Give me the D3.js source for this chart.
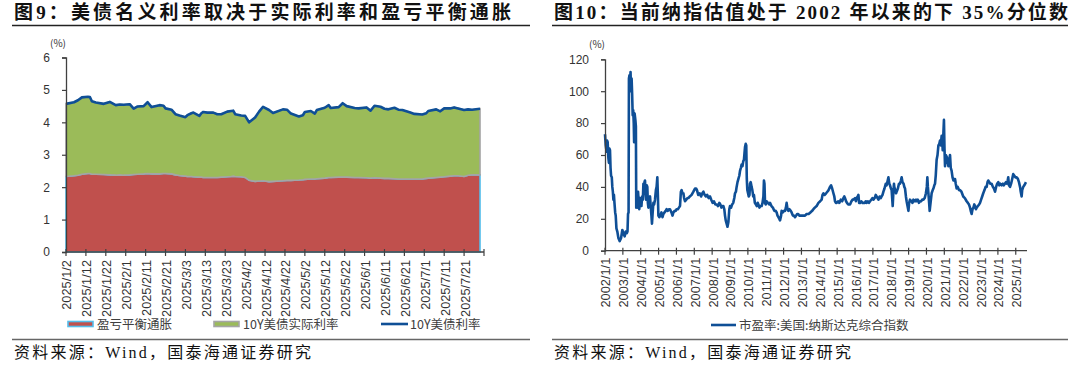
<!DOCTYPE html>
<html><head><meta charset="utf-8">
<script src="https://cdn.jsdelivr.net/npm/d3@7"></script>
<style>body{margin:0;background:#fff}svg{display:block}</style>
</head><body>
<svg id="c" width="1080" height="365"></svg>
<script>
// ---------- Left chart data (2025) ----------
const leftDates = ["01-02","01-06","01-08","01-10","01-13","01-14","01-15","01-17","01-21","01-24","01-27","01-29","01-31",
"02-03","02-05","02-07","02-10","02-12","02-14","02-18","02-20","02-21","02-24","02-26","02-28",
"03-03","03-04","03-06","03-07","03-10","03-11","03-12","03-14","03-17","03-19","03-21","03-24","03-26","03-27","03-28","03-31",
"04-02","04-04","04-07","04-09","04-11","04-14","04-16","04-21","04-23","04-25","04-29",
"05-01","05-02","05-05","05-07","05-08","05-12","05-14","05-15","05-19","05-21","05-23","05-27","05-29",
"06-02","06-04","06-06","06-09","06-11","06-13","06-16","06-18","06-20","06-24","06-26","06-30",
"07-02","07-03","07-07","07-09","07-11","07-14","07-16","07-18","07-21","07-23","07-25","07-29"];
const nominal10Y = [4.57,4.62,4.68,4.77,4.79,4.78,4.65,4.61,4.57,4.63,4.53,4.55,4.54,
4.56,4.42,4.49,4.50,4.62,4.47,4.53,4.51,4.43,4.39,4.25,4.21,
4.16,4.22,4.28,4.30,4.20,4.28,4.32,4.30,4.30,4.25,4.25,4.33,4.35,4.36,4.25,4.21,
4.20,4.00,4.15,4.33,4.48,4.38,4.29,4.40,4.39,4.27,4.18,
4.22,4.32,4.35,4.27,4.38,4.45,4.53,4.44,4.47,4.59,4.50,4.44,4.43,
4.46,4.36,4.51,4.48,4.42,4.40,4.45,4.39,4.38,4.30,4.26,4.24,
4.28,4.35,4.40,4.34,4.43,4.43,4.46,4.43,4.38,4.40,4.39,4.42];
const breakeven = [2.33,2.35,2.37,2.40,2.42,2.42,2.40,2.40,2.39,2.38,2.37,2.38,2.37,
2.38,2.39,2.40,2.41,2.42,2.41,2.41,2.42,2.42,2.41,2.38,2.36,
2.34,2.33,2.33,2.32,2.31,2.31,2.30,2.30,2.30,2.30,2.31,2.32,2.33,2.34,2.33,2.32,
2.30,2.21,2.18,2.19,2.20,2.17,2.18,2.20,2.21,2.21,2.22,
2.23,2.24,2.25,2.25,2.26,2.28,2.30,2.30,2.31,2.31,2.31,2.30,2.30,
2.29,2.28,2.29,2.28,2.27,2.27,2.26,2.25,2.25,2.25,2.25,2.25,
2.27,2.28,2.30,2.31,2.32,2.34,2.35,2.35,2.33,2.37,2.38,2.38];
const leftYTicks = [0,1,2,3,4,5,6];
const leftLegend = ["盈亏平衡通胀","10Y美债实际利率","10Y美债利率"];

// ---------- Right chart data (Nasdaq PE) ----------
const peYears = [2002.00,2002.04,2002.09,2002.12,2002.15,2002.19,2002.22,2002.25,2002.28,2002.31,2002.34,2002.38,2002.41,2002.44,2002.47,2002.50,2002.53,2002.57,2002.60,2002.64,
2002.69,2002.75,2002.82,2002.90,2002.97,2003.03,2003.10,2003.16,2003.22,2003.26,2003.29,2003.32,2003.34,2003.37,2003.40,2003.43,2003.46,2003.49,2003.52,2003.55,
2003.58,2003.61,2003.63,2003.66,2003.70,2003.73,2003.75,2003.78,2003.81,2003.85,2003.88,2003.92,2003.96,2004.00,2004.04,2004.08,2004.12,2004.15,2004.18,2004.21,
2004.24,2004.27,2004.30,2004.34,2004.37,2004.40,2004.43,2004.47,2004.52,2004.56,2004.60,2004.63,2004.67,2004.71,2004.75,2004.80,2004.85,2004.89,2004.93,2004.96,
2004.99,2005.04,2005.10,2005.16,2005.22,2005.27,2005.33,2005.40,2005.45,2005.52,2005.58,2005.64,2005.72,2005.78,2005.83,2005.90,2005.96,2006.01,2006.08,2006.14,
2006.20,2006.25,2006.29,2006.34,2006.39,2006.43,2006.48,2006.55,2006.62,2006.67,2006.75,2006.85,2006.95,2007.04,2007.10,2007.15,2007.22,2007.30,2007.38,2007.45,
2007.51,2007.58,2007.65,2007.72,2007.80,2007.88,2007.95,2008.03,2008.10,2008.18,2008.25,2008.33,2008.40,2008.46,2008.52,2008.58,2008.63,2008.68,2008.72,2008.76,
2008.81,2008.86,2008.91,2008.96,2009.00,2009.06,2009.12,2009.18,2009.24,2009.28,2009.33,2009.37,2009.42,2009.47,2009.52,2009.56,2009.61,2009.65,2009.70,2009.74,
2009.78,2009.81,2009.84,2009.88,2009.91,2009.94,2009.97,2010.01,2010.05,2010.09,2010.12,2010.16,2010.21,2010.25,2010.30,2010.34,2010.39,2010.45,2010.50,2010.55,
2010.59,2010.65,2010.71,2010.77,2010.82,2010.87,2010.90,2010.93,2010.96,2011.00,2011.05,2011.12,2011.20,2011.24,2011.32,2011.40,2011.48,2011.56,2011.61,2011.66,
2011.71,2011.76,2011.80,2011.86,2011.89,2011.95,2012.02,2012.08,2012.13,2012.17,2012.22,2012.26,2012.33,2012.40,2012.45,2012.52,2012.58,2012.64,2012.70,2012.76,
2012.82,2012.88,2012.96,2013.04,2013.10,2013.20,2013.29,2013.40,2013.50,2013.60,2013.67,2013.75,2013.85,2013.95,2014.05,2014.13,2014.18,2014.23,2014.30,2014.38,
2014.45,2014.52,2014.60,2014.66,2014.72,2014.79,2014.84,2014.88,2014.93,2014.97,2015.05,2015.12,2015.20,2015.28,2015.35,2015.40,2015.44,2015.50,2015.55,2015.62,
2015.68,2015.72,2015.80,2015.86,2015.91,2016.00,2016.05,2016.09,2016.15,2016.19,2016.23,2016.28,2016.35,2016.42,2016.47,2016.55,2016.60,2016.65,2016.72,2016.78,
2016.84,2016.92,2016.98,2017.03,2017.10,2017.16,2017.21,2017.26,2017.31,2017.38,2017.44,2017.49,2017.54,2017.59,2017.65,2017.72,2017.77,2017.83,2017.87,2017.92,
2017.96,2018.01,2018.05,2018.08,2018.11,2018.14,2018.18,2018.20,2018.25,2018.30,2018.33,2018.40,2018.46,2018.52,2018.57,2018.61,2018.66,2018.72,2018.76,2018.80,
2018.85,2018.89,2018.94,2018.99,2019.03,2019.08,2019.15,2019.22,2019.27,2019.35,2019.42,2019.45,2019.52,2019.58,2019.64,2019.70,2019.76,2019.83,2019.90,2019.97,
2020.02,2020.05,2020.08,2020.11,2020.15,2020.18,2020.20,2020.25,2020.29,2020.35,2020.39,2020.44,2020.48,2020.52,2020.57,2020.62,2020.67,2020.72,2020.76,2020.80,
2020.85,2020.88,2020.91,2020.95,2020.98,2021.01,2021.04,2021.08,2021.13,2021.18,2021.23,2021.27,2021.32,2021.36,2021.41,2021.46,2021.51,2021.55,2021.60,2021.64,
2021.69,2021.75,2021.82,2021.88,2021.96,2022.06,2022.15,2022.25,2022.32,2022.38,2022.44,2022.48,2022.53,2022.58,2022.63,2022.68,2022.72,2022.77,2022.81,2022.88,
2022.95,2023.00,2023.06,2023.12,2023.18,2023.25,2023.31,2023.37,2023.42,2023.46,2023.52,2023.58,2023.65,2023.72,2023.78,2023.84,2023.90,2023.96,2024.02,2024.08,
2024.14,2024.21,2024.28,2024.33,2024.39,2024.45,2024.50,2024.55,2024.58,2024.62,2024.68,2024.74,2024.80,2024.86,2024.92,2024.98,2025.05,2025.12,2025.18,2025.24,
2025.28,2025.33,2025.36,2025.42,2025.48,2025.53,2025.57];
const peValues = [73,66,62,69,68,58,55,64,63,52,47,46,40,37,32,35,30,24,22,14,
12,8,6,8,13,11,9,12,11,12,23,24,108,110,104,112,100,108,98,85,
88,80,68,86,82,78,27,30,27,37,32,26,33,30,28,34,32,42,38,43,
44,36,32,41,40,30,27,33,34,28,22,17,24,30,29,32,38,40,46,35,
22,21,22,24,21,23,24,25,26,25,26,26,24,22,24,25,25,26,26,27,
28,37,38,36,36,33,31,32,33,33,34,35,37,39,39,38,35,36,34,36,
37,35,34,35,33,34,32,30,31,29,29,28,30,29,27,28,28,26,22,19,
17,15,18,26,28,27,29,30,33,36,37,40,43,45,47,50,52,54,53,56,
57,61,65,67,66,45,38,36,34,35,42,43,40,38,34,35,30,29,28,30,
29,27,28,28,30,34,44,42,30,29,31,30,29,30,28,27,25,25,24,22,
21,20,19,22,25,24,25,25,27,30,26,25,26,25,24,22,22,21,22,23,
23,22,22,22,22,22,23,23,24,25,26,27,28,30,31,32,35,36,35,36,
37,38,40,41,39,36,34,31,30,30,31,30,32,31,33,34,33,31,30,29,
29,29,31,32,32,33,31,33,34,35,30,30,31,30,30,30,31,30,31,30,
31,32,33,32,33,35,34,33,32,34,33,34,35,37,39,42,41,44,46,42,
41,39,38,33,28,35,42,40,38,36,37,39,42,42,44,46,43,42,40,39,
34,31,28,25,30,32,31,30,32,31,32,31,32,30,31,31,32,32,33,36,
40,46,40,36,30,25,27,32,36,38,39,41,42,47,57,60,66,67,69,66,
72,70,63,74,82,64,53,60,59,56,53,57,60,52,50,46,44,45,45,42,
39,40,38,38,37,34,33,31,30,29,27,25,23,26,27,29,28,26,27,28,
29,30,32,34,36,38,40,40,43,44,43,42,42,40,39,37,40,42,43,41,
42,41,42,41,42,43,42,44,46,41,40,42,45,48,47,46,46,45,43,40,
37,34,38,40,41,42,43];
const rightYTicks = [0,20,40,60,80,100,120];
const rightXTickYears = d3.range(2002, 2026);
const rightLegend = "市盈率:美国:纳斯达克综合指数";

const titles = ["图9：美债名义利率取决于实际利率和盈亏平衡通胀","图10：当前纳指估值处于 2002 年以来的下 35%分位数"];
const sourceText = "资料来源：Wind，国泰海通证券研究";

// ---------- Drawing ----------
const svg = d3.select("#c");
svg.append("rect").attr("width",1080).attr("height",365).attr("fill","#fff");
const TICKFONT = "'Liberation Sans', Arial, sans-serif";
const CJK = "'Noto Sans CJK SC', sans-serif";
const AXIS = "#404040";

function header(x0, x1, title, tlen){
  svg.append("text").attr("x",x0+2).attr("y",19).attr("font-family","'Liberation Serif','Noto Sans CJK SC',serif")
    .attr("font-weight","bold").attr("font-size",19).attr("fill","#111")
    .attr("textLength",tlen).attr("lengthAdjust","spacing").text(title);
  svg.append("line").attr("x1",x0).attr("x2",x1).attr("y1",25.5).attr("y2",25.5).attr("stroke","#222").attr("stroke-width",1.5);
  svg.append("line").attr("x1",x0).attr("x2",x1).attr("y1",339.5).attr("y2",339.5).attr("stroke","#666").attr("stroke-width",1.3);
  svg.append("text").attr("x",x0+2).attr("y",358).attr("font-family","'Liberation Serif','Noto Sans CJK SC',serif")
    .attr("font-size",16).attr("fill","#111").attr("textLength",297).attr("lengthAdjust","spacing").text(sourceText);
}
header(12, 530, titles[0], 497);
header(552, 1068, titles[1], 514);

// ----- Left chart -----
const parse = d3.timeParse("%Y-%m-%d");
const lDates = leftDates.map(d => parse("2025-" + d));
const xL = d3.scaleTime().domain([parse("2025-01-02"), parse("2025-07-31")]).range([66, 484]);
const yL = d3.scaleLinear().domain([0, 6]).range([252, 57.5]);
const gL = svg.append("g");
const idx = d3.range(lDates.length);

gL.append("path").datum(idx)
  .attr("d", d3.area().x(i => xL(lDates[i])).y0(yL(0)).y1(i => yL(breakeven[i])))
  .attr("fill","#C0504D").attr("stroke","#55BDEB").attr("stroke-width",1.6);
gL.append("path").datum(idx)
  .attr("d", d3.area().x(i => xL(lDates[i])).y0(i => yL(breakeven[i])).y1(i => yL(nominal10Y[i])))
  .attr("fill","#9BBB59").attr("stroke","#A5A5A5").attr("stroke-width",1.6);
gL.append("path").datum(idx)
  .attr("d", d3.line().x(i => xL(lDates[i])).y(i => yL(nominal10Y[i])))
  .attr("fill","none").attr("stroke","#0F4F96").attr("stroke-width",2.6).attr("stroke-linejoin","round");

// left y axis
const yAxL = d3.axisLeft(yL).tickValues(leftYTicks).tickSize(4).tickPadding(12).tickFormat(d3.format("d"));
gL.append("g").attr("transform","translate(66,0)").call(yAxL);
// left x axis
const lTicks = d3.timeDay.range(parse("2025-01-02"), parse("2025-08-01"), 10);
const labelFmt = d => `${d.getFullYear()}/${d.getMonth()+1}/${d.getDate()}`;
const xAxL = gL.append("g").attr("transform",`translate(0,${yL(0)})`);
xAxL.append("line").attr("x1",66).attr("x2",484).attr("stroke",AXIS).attr("stroke-width",1.3);
xAxL.selectAll("line.t").data(lTicks).join("line").attr("class","t")
  .attr("x1",d=>xL(d)).attr("x2",d=>xL(d)).attr("y1",-3).attr("y2",4).attr("stroke",AXIS).attr("stroke-width",1.2);
xAxL.selectAll("text").data(lTicks.filter(d => d <= parse("2025-07-21"))).join("text")
  .attr("transform",d=>`translate(${xL(d)+1},8) rotate(-90)`).attr("dy","0.35em").attr("text-anchor","end")
  .attr("font-family",TICKFONT).attr("font-size",12.8).attr("fill","#333").text(labelFmt);
svg.append("text").attr("x",58).attr("y",47).attr("text-anchor","middle").attr("font-family",CJK)
  .attr("font-size",10).attr("fill","#333").text("(%)");

// left legend
const lg = svg.append("g").attr("font-family",CJK).attr("font-size",12.5).attr("fill","#404040");
lg.append("rect").attr("x",68).attr("y",321.5).attr("width",25).attr("height",5).attr("fill","#C0504D").attr("stroke","#55BDEB").attr("stroke-width",1.6);
lg.append("text").attr("x",97).attr("y",324).attr("dy","0.36em").text(leftLegend[0]);
lg.append("rect").attr("x",214).attr("y",321.5).attr("width",25).attr("height",5).attr("fill","#9BBB59").attr("stroke","#A5A5A5").attr("stroke-width",1.6);
lg.append("text").attr("x",243).attr("y",324).attr("dy","0.36em").text(leftLegend[1]);
lg.append("line").attr("x1",381).attr("x2",408).attr("y1",324).attr("y2",324).attr("stroke","#0F4F96").attr("stroke-width",2.6);
lg.append("text").attr("x",410).attr("y",324).attr("dy","0.36em").text(leftLegend[2]);

// ----- Right chart -----
const xR = d3.scaleLinear().domain([2002, 2025.63]).range([605, 1027]);
const yR = d3.scaleLinear().domain([0, 120]).range([250.7, 59.3]);
const gR = svg.append("g");
const ridx = d3.range(peYears.length);
gR.append("path").datum(ridx)
  .attr("d", d3.line().x(i => xR(peYears[i])).y(i => yR(peValues[i])))
  .attr("fill","none").attr("stroke","#0F4F96").attr("stroke-width",2.6).attr("stroke-linejoin","round");
const yAxR = d3.axisLeft(yR).tickValues(rightYTicks).tickSize(4).tickPadding(12).tickFormat(d3.format("d"));
gR.append("g").attr("transform","translate(605,0)").call(yAxR);
const xAxR = gR.append("g").attr("transform",`translate(0,${yR(0)})`);
xAxR.append("line").attr("x1",605).attr("x2",1027).attr("stroke",AXIS).attr("stroke-width",1.3);
xAxR.selectAll("line.t").data(rightXTickYears).join("line").attr("class","t")
  .attr("x1",d=>xR(d)).attr("x2",d=>xR(d)).attr("y1",-3).attr("y2",4).attr("stroke",AXIS).attr("stroke-width",1.2);
xAxR.selectAll("text").data(rightXTickYears).join("text")
  .attr("transform",d=>`translate(${xR(d)+1},7) rotate(-90)`).attr("dy","0.35em").attr("text-anchor","end")
  .attr("font-family",TICKFONT).attr("font-size",12.8).attr("fill","#333").text(d => `${d}/1/1`);
svg.append("text").attr("x",597).attr("y",48).attr("text-anchor","middle").attr("font-family",CJK)
  .attr("font-size",10).attr("fill","#333").text("(%)");
const rg = svg.append("g").attr("font-family",CJK).attr("font-size",12.5).attr("fill","#404040");
rg.append("line").attr("x1",711).attr("x2",736).attr("y1",325).attr("y2",325).attr("stroke","#0F4F96").attr("stroke-width",2.6);
rg.append("text").attr("x",739).attr("y",325).attr("dy","0.36em").text(rightLegend);

// style axes
svg.selectAll(".domain").attr("stroke",AXIS).attr("stroke-width",1.3);
svg.selectAll(".tick line").attr("stroke",AXIS).attr("stroke-width",1.2);
svg.selectAll(".tick text").attr("font-family",TICKFONT).attr("font-size",12).attr("fill","#333");
</script>
</body></html>
